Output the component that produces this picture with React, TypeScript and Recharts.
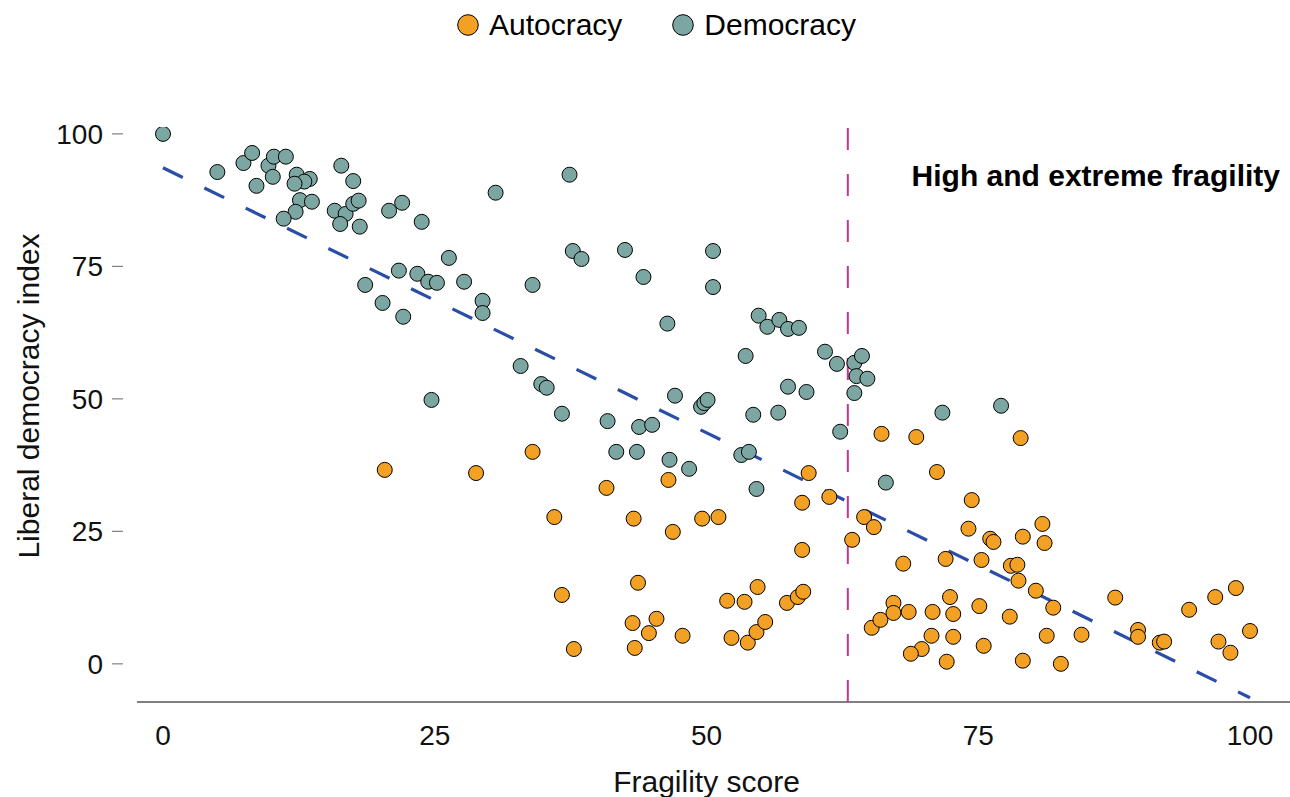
import { ScatterChart, Scatter, XAxis, YAxis, ReferenceLine, ReferenceArea, Legend, Label } from 'recharts'

const FONT = '"Liberation Sans", Arial, Helvetica, sans-serif'

const AUTOCRACY_COLOR = '#F2A125'
const DEMOCRACY_COLOR = '#7CA6A2'

// fragility score (x) and liberal democracy index (y), one pair per country
const autocracyScore = [
  20.4, 28.8, 34.0, 36.0, 36.7, 37.8, 40.8, 43.3, 43.7, 43.2, 43.4, 44.7, 45.4, 46.5, 46.9,
  47.8, 49.6, 51.1, 51.9, 52.3, 53.5, 53.8, 54.6, 54.7, 55.4, 57.4, 58.4, 58.9, 58.8, 58.8,
  59.4, 61.3, 63.4, 64.5, 65.4, 65.2, 66.0, 66.1, 69.3, 78.9, 71.2, 74.4, 74.1, 76.1, 76.4,
  79.1, 80.9, 81.1, 68.1, 72.0, 75.3, 78.0, 78.6, 78.7, 80.3, 81.9, 72.4, 67.2, 67.2, 68.6,
  70.8, 72.7, 75.1, 77.9, 70.7, 72.7, 69.8, 68.8, 72.1, 75.5, 79.1, 82.6, 81.3, 84.5, 87.6,
  89.7, 89.7, 91.7, 92.1, 94.4, 96.8, 98.7, 100, 97.1, 98.2,
]
const autocracyIndex = [
  36.6, 36.0, 40.0, 27.7, 13.0, 2.8, 33.2, 27.4, 15.3, 7.7, 3.0, 5.8, 8.5, 34.7, 24.9,
  5.3, 27.4, 27.7, 11.9, 4.9, 11.7, 4.0, 6.0, 14.5, 7.9, 11.5, 12.6, 13.6, 21.5, 30.4,
  36.0, 31.5, 23.4, 27.7, 25.8, 6.8, 8.3, 43.4, 42.8, 42.6, 36.2, 30.9, 25.5, 23.6, 23.0,
  24.0, 26.4, 22.8, 18.9, 19.8, 19.6, 18.5, 18.7, 15.7, 13.8, 10.6, 12.6, 11.5, 9.6, 9.8,
  9.8, 9.4, 10.9, 8.9, 5.3, 5.1, 2.8, 1.9, 0.4, 3.4, 0.6, 0.0, 5.3, 5.5, 12.5,
  6.4, 5.1, 4.0, 4.2, 10.2, 12.6, 14.3, 6.2, 4.2, 2.1,
]

const democracyScore = [
  0, 5.0, 7.4, 8.2, 8.6, 9.7, 10.2, 10.1, 11.3, 12.3, 13.5, 13.0, 12.1, 12.6, 13.7,
  12.2, 11.1, 16.4, 17.5, 15.8, 16.8, 16.3, 18.1, 17.5, 18.0, 20.8, 22.0, 23.8, 26.3, 21.7,
  23.4, 24.4, 25.2, 18.6, 20.2, 22.1, 24.7, 27.7, 29.4, 29.4, 30.6, 32.9, 34.0, 34.8, 35.3,
  36.7, 37.4, 37.7, 38.5, 40.9, 41.7, 42.5, 43.8, 43.6, 44.2, 45.0, 46.4, 46.6, 47.1, 48.4,
  49.5, 49.8, 50.1, 50.6, 50.6, 53.2, 53.9, 54.6, 53.6, 54.3, 54.8, 55.6, 56.7, 56.6, 57.5,
  57.5, 58.5, 59.2, 60.9, 62.0, 62.3, 63.6, 64.3, 63.8, 64.8, 63.6, 66.5, 71.7, 77.1,
]
const democracyIndex = [
  100, 92.8, 94.5, 96.4, 90.2, 94.0, 95.7, 91.9, 95.7, 92.3, 91.5, 91.0, 90.6, 87.5, 87.2,
  85.3, 84.0, 94.0, 91.1, 85.5, 84.9, 83.0, 82.5, 86.8, 87.4, 85.5, 87.0, 83.4, 76.6, 74.2,
  73.6, 72.1, 71.9, 71.5, 68.1, 65.5, 49.8, 72.1, 68.5, 66.2, 88.9, 56.2, 71.5, 52.8, 52.1,
  47.2, 92.3, 77.9, 76.4, 45.8, 40.0, 78.1, 44.7, 40.0, 73.0, 45.1, 64.2, 38.5, 50.6, 36.8,
  48.5, 49.2, 49.8, 77.9, 71.1, 39.4, 40.0, 33.0, 58.1, 47.0, 65.7, 63.6, 64.9, 47.4, 63.2,
  52.3, 63.4, 51.3, 58.9, 56.6, 43.8, 56.8, 58.1, 54.3, 53.8, 51.1, 34.2, 47.4, 48.7,
]

const xTicks = [0, 25, 50, 75, 100]
const yTicks = [0, 25, 50, 75, 100]

// fitted trend: index = 93.6 - 1.0 * score
const trendStart = { x: 0, y: 93.6 }
const trendEnd = { x: 100, y: -6.4 }
const fragilityCutoff = 63

const X_DOMAIN: [number, number] = [-3.68, 103.68]
const Y_DOMAIN: [number, number] = [-7.2, 101.3]

const toPoints = (xs: number[], ys: number[]) => xs.map((x, i) => ({ x, y: ys[i] }))
const autocracy = toPoints(autocracyScore, autocracyIndex)
const democracy = toPoints(democracyScore, democracyIndex)

const legendItems = [
  { name: 'Autocracy', color: AUTOCRACY_COLOR },
  { name: 'Democracy', color: DEMOCRACY_COLOR },
]

const Dot = (color: string) => (props: any) => (
  <circle cx={props.cx} cy={props.cy} r={7.5} fill={color} stroke="#000" strokeWidth={1} />
)

const renderLegend = () => (
  <div
    style={{
      display: 'flex',
      justifyContent: 'center',
      alignItems: 'center',
      gap: 50,
      height: 50,
      paddingLeft: 23,
      fontFamily: FONT,
      fontSize: 30,
      color: '#000',
    }}
  >
    {legendItems.map(item => (
      <span key={item.name} style={{ display: 'flex', alignItems: 'center' }}>
        <svg width={22} height={22} style={{ marginRight: 10 }}>
          <circle cx={11} cy={11} r={10.3} fill={item.color} stroke="#000" strokeWidth={1} />
        </svg>
        {item.name}
      </span>
    ))}
  </div>
)

export default function App() {
  return (
    <div style={{ position: 'absolute', left: 0, top: 0, background: '#fff' }}>
      <ScatterChart width={1290} height={797} margin={{ top: 77, right: 0, bottom: 0, left: 0 }}>
        <Legend
          verticalAlign="top"
          content={renderLegend}
          wrapperStyle={{ top: 0, left: 0, width: 1290 }}
        />
        <XAxis
          type="number"
          dataKey="x"
          domain={X_DOMAIN}
          ticks={xTicks}
          allowDataOverflow
          axisLine={false}
          tickLine={false}
          tickSize={0}
          tickMargin={23}
          height={95}
          tick={{ fontFamily: FONT, fontSize: 28, fill: '#111' }}
        >
          <Label
            value="Fragility score"
            position="insideBottom"
            offset={5}
            style={{ fontFamily: FONT, fontSize: 30, fill: '#111' }}
          />
        </XAxis>
        <YAxis
          type="number"
          dataKey="y"
          domain={Y_DOMAIN}
          ticks={yTicks}
          allowDataOverflow
          axisLine={false}
          tickLine={{ stroke: '#808080', strokeWidth: 1.2 }}
          tickSize={11}
          tickMargin={9}
          width={123}
          tick={{ fontFamily: FONT, fontSize: 28, fill: '#111' }}
        >
          <Label
            content={() => (
              <text
                x={28}
                y={396}
                transform="rotate(-90 28 396)"
                textAnchor="middle"
                dominantBaseline="central"
                style={{ fontFamily: FONT, fontSize: 30, fill: '#111' }}
              >
                Liberal democracy index
              </text>
            )}
          />
        </YAxis>

        {/* bottom axis line starts a little right of the y ticks */}
        <ReferenceLine
          segment={[{ x: -2.4, y: Y_DOMAIN[0] }, { x: X_DOMAIN[1], y: Y_DOMAIN[0] }]}
          stroke="#808080"
          strokeWidth={2}
          ifOverflow="visible"
        />

        <ReferenceArea
          x1={fragilityCutoff}
          x2={X_DOMAIN[1]}
          fill="none"
          fillOpacity={0}
          stroke="none"
          label={{
            content: (p: any) => (
              <text
                x={p.viewBox.x + p.viewBox.width - 10}
                y={p.viewBox.y + 59}
                textAnchor="end"
                style={{ fontFamily: FONT, fontSize: 30, fontWeight: 700, fill: '#000' }}
              >
                High and extreme fragility
              </text>
            ),
          }}
        />

        <ReferenceLine
          x={fragilityCutoff}
          stroke="#C7368E"
          strokeWidth={2}
          strokeDasharray="22 24"
        />

        <Scatter
          name="Autocracy"
          data={autocracy}
          fill={AUTOCRACY_COLOR}
          shape={Dot(AUTOCRACY_COLOR)}
          isAnimationActive={false}
        />
        <Scatter
          name="Democracy"
          data={democracy}
          fill={DEMOCRACY_COLOR}
          shape={Dot(DEMOCRACY_COLOR)}
          isAnimationActive={false}
        />

        <ReferenceLine
          segment={[trendStart, trendEnd]}
          stroke="#2A4EA6"
          strokeWidth={3.2}
          strokeDasharray="22 24"
          ifOverflow="visible"
        />
      </ScatterChart>
    </div>
  )
}
